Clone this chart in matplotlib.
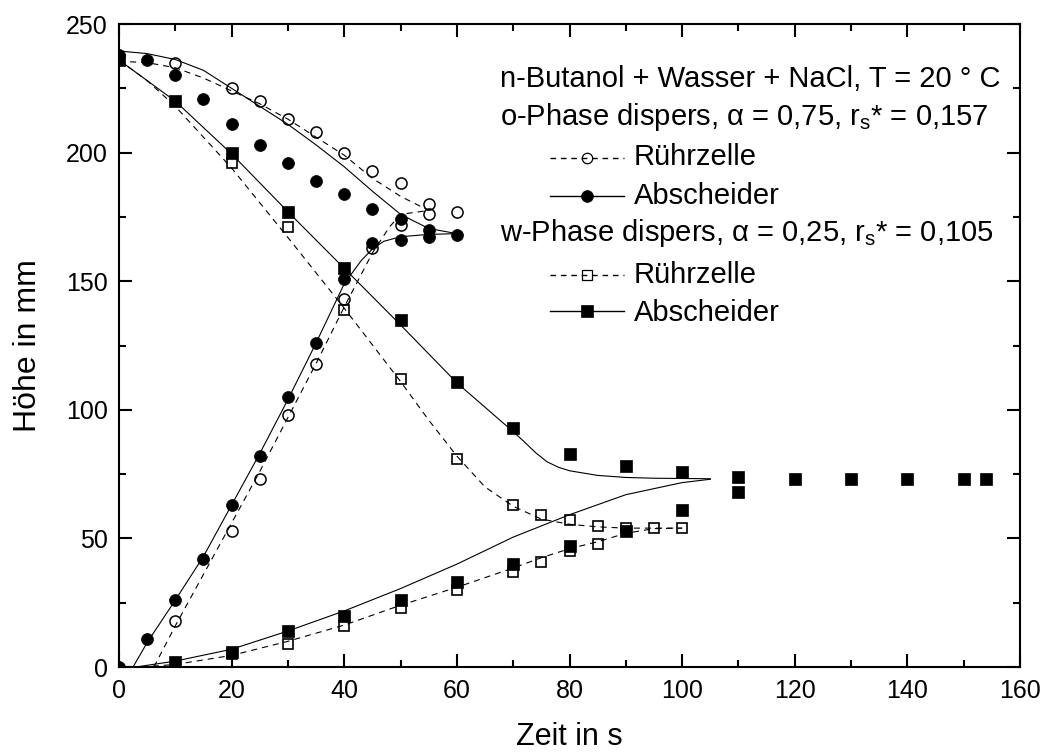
import matplotlib
matplotlib.use("Agg")
import matplotlib.pyplot as plt
from matplotlib.lines import Line2D
from matplotlib.ticker import MultipleLocator

plt.rcParams['font.family'] = ['Liberation Sans', 'DejaVu Sans']
plt.rcParams['mathtext.fontset'] = 'custom'
plt.rcParams['mathtext.rm'] = 'Liberation Sans'
plt.rcParams['mathtext.it'] = 'Liberation Sans:italic'
plt.rcParams['mathtext.sf'] = 'Liberation Sans'

# ---------------- data: measured points ----------------
# o-Phase dispers, Rührzelle (open circles)
o_rz_up_x = [10, 20, 25, 30, 35, 40, 45, 50, 55, 55, 60]
o_rz_up_y = [235, 225, 220, 213, 208, 200, 193, 188, 180, 176, 177]
o_rz_lo_x = [10, 20, 25, 30, 35, 40, 45, 50]
o_rz_lo_y = [18, 53, 73, 98, 118, 143, 163, 172]

# o-Phase dispers, Abscheider (filled circles)
o_ab_up_x = [0, 5, 10, 15, 20, 25, 30, 35, 40, 45, 50, 55, 60]
o_ab_up_y = [238, 236, 230, 221, 211, 203, 196, 189, 184, 178, 174, 170, 168]
o_ab_lo_x = [0, 5, 10, 15, 20, 25, 30, 35, 40, 45, 50, 55]
o_ab_lo_y = [0, 11, 26, 42, 63, 82, 105, 126, 151, 165, 166, 167]

# w-Phase dispers, Rührzelle (open squares)
w_rz_up_x = [20, 30, 40, 50, 60, 70, 75, 80, 85, 90, 95, 100]
w_rz_up_y = [196, 171, 139, 112, 81, 63, 59, 57, 55, 54, 54, 54]
w_rz_lo_x = [20, 30, 40, 50, 60, 70, 75, 80, 85]
w_rz_lo_y = [5, 9, 16, 23, 30, 37, 41, 45, 48]

# w-Phase dispers, Abscheider (filled squares)
w_ab_up_x = [0, 10, 20, 30, 40, 50, 60, 70, 80, 90, 100, 110, 120, 130, 140, 150, 154]
w_ab_up_y = [236, 220, 200, 177, 155, 135, 111, 93, 83, 78, 76, 74, 73, 73, 73, 73, 73]
w_ab_lo_x = [10, 20, 30, 40, 50, 60, 70, 80, 90, 100, 110]
w_ab_lo_y = [2, 6, 14, 20, 26, 33, 40, 47, 53, 61, 68]

# ---------------- data: fitted curves ----------------
c_o_rz_up_x = [0, 5, 10, 15, 20, 25, 30, 35, 40, 45, 50, 55]
c_o_rz_up_y = [235.5, 235, 233, 229, 224, 219, 213, 206, 199, 190, 183, 177.5]
c_o_rz_lo_x = [6.2, 10, 20, 25, 30, 35, 40, 45, 48, 50, 55]
c_o_rz_lo_y = [0, 16, 56, 76, 97, 118, 140, 161, 171, 176, 177.5]

c_o_ab_up_x = [0, 5, 10, 15, 20, 25, 30, 35, 40, 45, 50, 55, 60]
c_o_ab_up_y = [239.5, 238.5, 236.2, 232, 225, 218, 211, 203, 194.5, 185, 176, 170.5, 168.5]
c_o_ab_lo_x = [2.5, 5, 10, 15, 20, 25, 30, 35, 40, 43, 45, 47, 50, 55, 60]
c_o_ab_lo_y = [0, 9.5, 26, 43, 63, 83, 104, 126, 149, 158, 162.5, 165.5, 167.3, 168.2, 168.5]

c_w_rz_up_x = [0, 5, 10, 20, 30, 40, 50, 55, 60, 65, 70, 75, 80, 85, 90, 95, 100]
c_w_rz_up_y = [236, 228, 218, 194, 167, 139.5, 111, 96, 82, 70, 62.5, 57.5, 55.5, 54.5, 54, 54, 54]
c_w_rz_lo_x = [4, 10, 20, 30, 40, 50, 60, 70, 75, 80, 85, 90, 95, 100]
c_w_rz_lo_y = [0, 1, 4.5, 10, 16.3, 24, 31, 38.5, 42.5, 46, 48.7, 52, 53.8, 54]

c_w_ab_up_x = [0, 10, 20, 30, 40, 50, 60, 70, 72, 74, 76, 78, 80, 85, 90, 95, 100, 105]
c_w_ab_up_y = [236, 220, 199.5, 177, 155, 133, 110.5, 91.5, 87.5, 83.3, 79.8, 77.7, 76.3, 74.5, 73.7, 73.4, 73.3, 73.2]
c_w_ab_lo_x = [3, 10, 20, 30, 40, 50, 60, 70, 80, 90, 100, 105]
c_w_ab_lo_y = [0, 2.3, 6.9, 14, 21.8, 30.5, 40, 50.5, 59.2, 67, 71.7, 73]

# ---------------- texts ----------------
header1 = 'n-Butanol + Wasser + NaCl, T = 20 ° C'
header2 = r'o-Phase dispers, $\mathregular{\alpha}$ = 0,75, r$_\mathregular{s}$* = 0,157'
header3 = r'w-Phase dispers, $\mathregular{\alpha}$ = 0,25, r$_\mathregular{s}$* = 0,105'
lab_rz = 'Rührzelle'
lab_ab = 'Abscheider'
xlabel = 'Zeit in s'
ylabel = 'Höhe in mm'

# ---------------- figure ----------------
fig = plt.figure(figsize=(10.4, 7.53), dpi=100)
ax = fig.add_axes([0.1144, 0.1142, 0.8664, 0.8539])

lw = 0.8
dash = (5.5, 4.5)
for xs, ys in [(c_o_rz_up_x, c_o_rz_up_y), (c_o_rz_lo_x, c_o_rz_lo_y),
               (c_w_rz_up_x, c_w_rz_up_y), (c_w_rz_lo_x, c_w_rz_lo_y)]:
    ax.plot(xs, ys, color='black', lw=lw, dashes=dash, zorder=2)
for xs, ys in [(c_o_ab_up_x, c_o_ab_up_y), (c_o_ab_lo_x, c_o_ab_lo_y),
               (c_w_ab_up_x, c_w_ab_up_y), (c_w_ab_lo_x, c_w_ab_lo_y)]:
    ax.plot(xs, ys, color='black', lw=lw, ls='-', zorder=2)

ms_c = 8.6
ms_s = 8.4
for xs, ys in [(o_rz_up_x, o_rz_up_y), (o_rz_lo_x, o_rz_lo_y)]:
    ax.plot(xs, ys, ls='none', marker='o', ms=ms_c - 0.6, mfc='none', mec='black', mew=1.1, zorder=3)
for xs, ys in [(w_rz_up_x, w_rz_up_y), (w_rz_lo_x, w_rz_lo_y)]:
    ax.plot(xs, ys, ls='none', marker='s', ms=ms_s - 1.0, mfc='none', mec='black', mew=1.2, zorder=3)
for xs, ys in [(o_ab_up_x, o_ab_up_y), (o_ab_lo_x, o_ab_lo_y)]:
    ax.plot(xs, ys, ls='none', marker='o', ms=ms_c, mfc='black', mec='black', mew=0.5, zorder=4)
for xs, ys in [(w_ab_up_x, w_ab_up_y), (w_ab_lo_x, w_ab_lo_y)]:
    ax.plot(xs, ys, ls='none', marker='s', ms=ms_s, mfc='black', mec='black', mew=0.5, zorder=4)

ax.set_xlim(0, 160)
ax.set_ylim(0, 250)
ax.xaxis.set_major_locator(MultipleLocator(20))
ax.xaxis.set_minor_locator(MultipleLocator(10))
ax.yaxis.set_major_locator(MultipleLocator(50))
ax.yaxis.set_minor_locator(MultipleLocator(25))
ax.tick_params(which='both', direction='in', top=True, right=True, width=1.5, colors='black')
ax.tick_params(which='major', length=9.5)
ax.tick_params(which='minor', length=5)
ax.tick_params(axis='x', which='major', labelsize=18, pad=8.5)
ax.tick_params(axis='y', which='major', labelsize=18, pad=8)
for sp in ax.spines.values():
    sp.set_linewidth(1.5)

ax.set_xlabel(xlabel, fontsize=22)
ax.set_ylabel(ylabel, fontsize=23)
ax.xaxis.set_label_coords(0.5, -0.122)
ax.yaxis.set_label_coords(-0.101, 0.5)
ax.xaxis.label.set_va('baseline')
ax.yaxis.label.set_va('center')

# ---------------- legend block (manual layout) ----------------
fs_leg = 21
tx0 = 0.423
ax.text(tx0, 0.902, header1, transform=ax.transAxes, fontsize=fs_leg, va='baseline', ha='left')
ax.text(tx0, 0.843, header2, transform=ax.transAxes, fontsize=fs_leg, va='baseline', ha='left')
ax.text(tx0, 0.663, header3, transform=ax.transAxes, fontsize=fs_leg, va='baseline', ha='left')

hx0, hx1, hxm, tx1 = 0.478, 0.561, 0.5195, 0.571
entries = [
    (0.781, 0.792, lab_rz, dict(dashes=(4, 3.5)), dict(marker='o', mfc='none', ms=7.5, mew=0.9)),
    (0.720, 0.7325, lab_ab, dict(ls='-'), dict(marker='o', mfc='black', ms=8.5, mew=0.5)),
    (0.597, 0.6096, lab_rz, dict(dashes=(4, 3.5)), dict(marker='s', mfc='none', ms=7, mew=0.9)),
    (0.538, 0.553, lab_ab, dict(ls='-'), dict(marker='s', mfc='black', ms=8, mew=0.5)),
]
for ty, hy, lab, lstyle, mstyle in entries:
    ax.add_line(Line2D([hx0, hx1], [hy, hy], transform=ax.transAxes, color='black',
                       lw=1.0, **lstyle))
    ax.add_line(Line2D([hxm], [hy], transform=ax.transAxes, ls='none', mec='black',
                       **mstyle))
    ax.text(tx1, ty, lab, transform=ax.transAxes, fontsize=fs_leg, va='baseline', ha='left')

fig.savefig('out.png', dpi=100)
